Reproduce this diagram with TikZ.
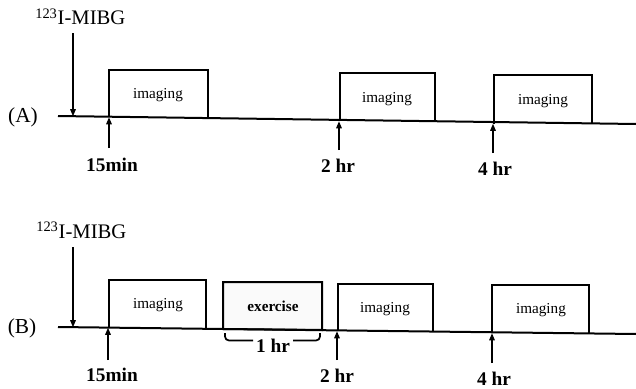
\documentclass[tikz,border=0pt]{standalone}
\usepackage{fontspec}
\setmainfont{Liberation Serif}
\usetikzlibrary{arrows.meta}
\begin{document}
\begin{tikzpicture}[x=0.75pt,y=-0.75pt,
  tline/.style={line width=1.5pt},
  boxline/.style={line width=1.5pt,line join=miter},
  arr/.style={line width=1.4pt,-{Triangle[length=5.5pt,width=4pt]}},
  bracket/.style={line width=1.3pt,rounded corners=3pt},
  boxtext/.style={font=\fontsize{11.4}{13}\selectfont,inner sep=0pt},
  extext/.style={font=\fontsize{11.4}{13}\selectfont\bfseries,inner sep=0pt},
  timetext/.style={font=\fontsize{14.5}{16}\selectfont\bfseries,inner sep=0pt},
  paneltext/.style={font=\fontsize{16}{18}\selectfont,inner sep=0pt},
  tracertext/.style={font=\fontsize{15.5}{17}\selectfont,inner sep=0pt,anchor=base west}]
\useasboundingbox (0,0) rectangle (636,389);

% ---------------- Panel A ----------------
\node[tracertext] (mibgA) at (35,25) {\textsuperscript{123}I-MIBG};
\node[paneltext] (labA) at (23,117) {(A)};
\coordinate (tA0) at (58,116);
\coordinate (tA1) at (636,124);
\coordinate (inA) at (73,116.5);
\coordinate (inAtop) at (73,33);
% boxes
\draw[boxline] (109,117) -- (109,70) -- (208,70) -- (208,118.5);
\node[boxtext] (imA1) at (158,95) {imaging};
\draw[boxline] (340,121) -- (340,73) -- (435,73) -- (435,122);
\node[boxtext] (imA2) at (387,99) {imaging};
\draw[boxline] (494,123.5) -- (494,75) -- (592,75) -- (592,124);
\node[boxtext] (imA3) at (543,101) {imaging};
\draw[tline] (tA0) -- (tA1);
\draw[arr] (inAtop) -- (inA);
% time labels and arrows
\node[timetext] (tA15) at (112,165) {15min};
\node[timetext] (tA2) at (338,166) {2 hr};
\node[timetext] (tA4) at (495,169) {4 hr};
\coordinate (pA15) at (109,117);
\coordinate (pA2) at (339,121);
\coordinate (pA4) at (493,123.5);
\coordinate (sA15) at (109,148);
\coordinate (sA2) at (339,150);
\coordinate (sA4) at (493,153);
\draw[arr] (sA15) -- (pA15);
\draw[arr] (sA2) -- (pA2);
\draw[arr] (sA4) -- (pA4);

% ---------------- Panel B ----------------
\node[tracertext] (mibgB) at (36,238) {\textsuperscript{123}I-MIBG};
\node[paneltext] (labB) at (22,328) {(B)};
\coordinate (tB0) at (58,327);
\coordinate (tB1) at (636,334);
\coordinate (inB) at (73,327.5);
\coordinate (inBtop) at (73,247);
% boxes
\draw[boxline] (109,327.5) -- (109,280) -- (206,280) -- (206,328);
\node[boxtext] (imB1) at (158,305) {imaging};
\draw[boxline,fill=gray!4] (223,329) -- (223,282) -- (322,282) -- (322,330) -- cycle;
\node[extext] (exB) at (273,306) {exercise};
\draw[boxline] (338,330.5) -- (338,284) -- (433,284) -- (433,331.5);
\node[boxtext] (imB2) at (385,309) {imaging};
\draw[boxline] (492,333) -- (492,285) -- (589,285) -- (589,334);
\node[boxtext] (imB3) at (541,310) {imaging};
\draw[tline] (tB0) -- (tB1);
\draw[arr] (inBtop) -- (inB);
% bracket under exercise
\node[timetext] (hrB) at (273,346) {1 hr};
\draw[bracket] (225,333) -- (225,340.5) -- (253,340.5);
\draw[bracket] (293,340.5) -- (320,340.5) -- (320,333);
% time labels and arrows
\node[timetext] (tB15) at (112,375) {15min};
\node[timetext] (tB2) at (337,376) {2 hr};
\node[timetext] (tB4) at (494,379) {4 hr};
\coordinate (pB15) at (108,327.5);
\coordinate (pB2) at (337,331);
\coordinate (pB4) at (492,333);
\coordinate (sB15) at (108,360);
\coordinate (sB2) at (337,360);
\coordinate (sB4) at (492,363);
\draw[arr] (sB15) -- (pB15);
\draw[arr] (sB2) -- (pB2);
\draw[arr] (sB4) -- (pB4);
\end{tikzpicture}
\end{document}
